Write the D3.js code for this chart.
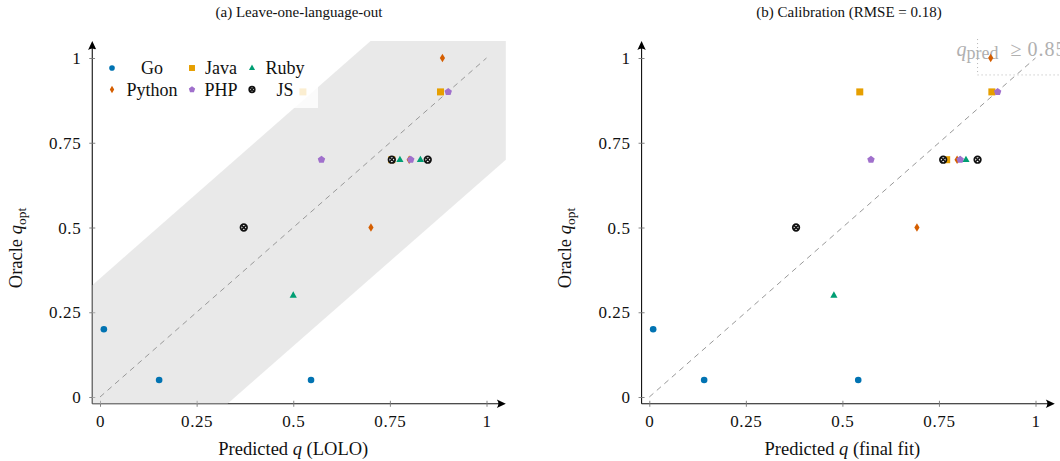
<!DOCTYPE html>
<html>
<head>
<meta charset="utf-8">
<script src="https://cdn.jsdelivr.net/npm/d3@7"></script>
<style>
  html, body { margin: 0; padding: 0; background: #fff; }
  svg { display: block; }
  svg text { font-family: "Liberation Serif", "Times New Roman", serif; }
</style>
</head>
<body>
<svg id="chart" width="1060" height="461"></svg>
<script>
// Languages, plotted in this order (later series sit on top)
const languages = ["Go", "Java", "Ruby", "Python", "PHP", "JS"];
const languageColors = ["#0173b2", "#e69f00", "#009e73", "#d55e00", "#a070cc", "#111111"];
const languageMarks = ["circle", "square", "triangle", "diamond", "pentagon", "otimes"];

// Oracle q_opt per task, three tasks per language
const oracleGo = [0.2, 0.05, 0.05];
const oracleJava = [0.9, 0.9, 0.7];
const oracleRuby = [0.3, 0.7, 0.7];
const oraclePython = [1.0, 0.5, 0.7];
const oraclePHP = [0.9, 0.7, 0.7];
const oracleJS = [0.5, 0.7, 0.7];

// Predicted q, leave-one-language-out
const loloGo = [0.01, 0.153, 0.546];
const loloJava = [0.525, 0.881, 0.755];
const loloRuby = [0.50, 0.776, 0.829];
const loloPython = [0.886, 0.701, 0.80];
const loloPHP = [0.901, 0.804, 0.573];
const loloJS = [0.372, 0.755, 0.848];

// Predicted q, final fit on all languages
const finalGo = [0.01, 0.142, 0.541];
const finalJava = [0.545, 0.887, 0.770];
const finalRuby = [0.478, 0.805, 0.820];
const finalPython = [0.884, 0.693, 0.797];
const finalPHP = [0.902, 0.805, 0.574];
const finalJS = [0.380, 0.761, 0.850];

const tickValues = [0, 0.25, 0.5, 0.75, 1];
const tickLabels = ["0", "0.25", "0.5", "0.75", "1"];

const bandHalfWidth = 0.35;      // LOLO tolerance band around y = x
const highPredThreshold = 0.85;  // final-fit region q_pred >= 0.85
const highPredOracle = 0.95;

const oracleByLang = [oracleGo, oracleJava, oracleRuby, oraclePython, oraclePHP, oracleJS];
const loloByLang = [loloGo, loloJava, loloRuby, loloPython, loloPHP, loloJS];
const finalByLang = [finalGo, finalJava, finalRuby, finalPython, finalPHP, finalJS];

const SERIF = "'Liberation Serif', 'Times New Roman', serif";
const svg = d3.select("#chart");
const domainMin = -0.02, domainMax = 1.05;

// Marker drawing
function drawMark(g, kind, color, x, y, s) {
  s = s || 1;
  if (kind === "circle") {
    g.append("circle").attr("cx", x).attr("cy", y).attr("r", 3.3 * s).attr("fill", color);
  } else if (kind === "square") {
    const h = 3.5 * s;
    g.append("rect").attr("x", x - h).attr("y", y - h).attr("width", 2 * h).attr("height", 2 * h).attr("fill", color);
  } else if (kind === "triangle") {
    const r = 4 * s;
    g.append("path").attr("d", `M${x},${y - r} L${x + r * 0.9},${y + r * 0.6} L${x - r * 0.9},${y + r * 0.6} Z`).attr("fill", color);
  } else if (kind === "diamond") {
    const w = 2.6 * s, h = 4.3 * s;
    g.append("path").attr("d", `M${x},${y - h} L${x + w},${y} L${x},${y + h} L${x - w},${y} Z`).attr("fill", color);
  } else if (kind === "pentagon") {
    const r = 3.9 * s;
    const pts = d3.range(5).map(i => {
      const a = -Math.PI / 2 + i * 2 * Math.PI / 5;
      return [x + r * Math.cos(a), y + r * Math.sin(a)];
    });
    g.append("path").attr("d", "M" + pts.map(p => p.join(",")).join("L") + "Z").attr("fill", color);
  } else if (kind === "otimes") {
    const r = 3.3 * s;
    g.append("circle").attr("cx", x).attr("cy", y).attr("r", r).attr("fill", "#fff").attr("stroke", color).attr("stroke-width", 1.7);
    const d = r * 0.72;
    g.append("path").attr("d", `M${x - d},${y - d}L${x + d},${y + d}M${x - d},${y + d}L${x + d},${y - d}`)
      .attr("stroke", color).attr("stroke-width", 1.5);
  }
}

function drawPanel(opts) {
  const x = d3.scaleLinear().domain([0, 1]).range([opts.x0, opts.x1]);
  const y = d3.scaleLinear().domain([0, 1]).range([397, 58]);
  const g = svg.append("g");

  const axisX = x(domainMin), axisY = y(domainMin);
  const xEnd = x(domainMax), yEnd = y(domainMax);

  // Axis lines with arrow heads
  g.append("line").attr("x1", axisX).attr("x2", xEnd - 3).attr("y1", axisY).attr("y2", axisY)
    .attr("stroke", "#111").attr("stroke-width", 1.1);
  g.append("line").attr("x1", axisX).attr("x2", axisX).attr("y1", axisY).attr("y2", yEnd + 3)
    .attr("stroke", "#111").attr("stroke-width", 1.1);
  g.append("path").attr("d", `M${xEnd},${axisY} L${xEnd - 9},${axisY - 4.2} Q${xEnd - 6},${axisY} ${xEnd - 9},${axisY + 4.2} Z`).attr("fill", "#000");
  g.append("path").attr("d", `M${axisX},${yEnd} L${axisX - 4.2},${yEnd + 9} Q${axisX},${yEnd + 6} ${axisX + 4.2},${yEnd + 9} Z`).attr("fill", "#000");

  // Ticks and tick labels through d3 axes
  const xAxis = d3.axisBottom(x).tickValues(tickValues).tickFormat((d, i) => tickLabels[i]).tickSizeOuter(0);
  const gx = g.append("g").attr("transform", `translate(0,${axisY})`).call(xAxis)
    .attr("font-family", SERIF).attr("font-size", 17);
  gx.select(".domain").remove();
  gx.selectAll(".tick line").attr("y1", -3).attr("y2", 3).attr("stroke", "#777").attr("stroke-width", 0.9);
  gx.selectAll(".tick text").attr("y", 23).attr("dy", 0).attr("fill", "#111")
    .style("letter-spacing", "0.6px");

  const yAxis = d3.axisLeft(y).tickValues(tickValues).tickFormat((d, i) => tickLabels[i]).tickSizeOuter(0);
  const gy = g.append("g").attr("transform", `translate(${axisX},0)`).call(yAxis)
    .attr("font-family", SERIF).attr("font-size", 17);
  gy.select(".domain").remove();
  gy.selectAll(".tick line").attr("x1", -3).attr("x2", 3).attr("stroke", "#777").attr("stroke-width", 0.9);
  gy.selectAll(".tick text").attr("x", -11).attr("dy", "0.33em").attr("fill", "#111")
    .style("letter-spacing", "0.6px");

  if (opts.band) {
    const lo = domainMin, hi = domainMax, w = bandHalfWidth;
    const poly = [[lo, lo], [lo + w, lo], [hi, hi - w], [hi, hi], [hi - w, hi], [lo, lo + w]];
    g.append("path")
      .attr("d", d3.line().x(d => x(d[0])).y(d => y(d[1]))(poly) + "Z")
      .attr("fill", "#d2d2d2").attr("fill-opacity", 0.48);
  }

  // Identity line
  g.append("line").attr("x1", x(0)).attr("y1", y(0)).attr("x2", x(1)).attr("y2", y(1))
    .attr("stroke", "#999").attr("stroke-width", 1).attr("stroke-dasharray", "5.5,4.5");

  if (opts.threshold) {
    g.append("line").attr("x1", x(highPredThreshold)).attr("x2", x(highPredThreshold))
      .attr("y1", yEnd - 2).attr("y2", y(highPredOracle))
      .attr("stroke", "#b5b5b5").attr("stroke-width", 1).attr("stroke-dasharray", "1,3");
    g.append("line").attr("x1", x(highPredThreshold)).attr("x2", x(1.08))
      .attr("y1", y(highPredOracle)).attr("y2", y(highPredOracle))
      .attr("stroke", "#b5b5b5").attr("stroke-width", 1).attr("stroke-dasharray", "1,3");
    const t = g.append("text").attr("x", x(highPredThreshold) - 21).attr("y", 56)
      .attr("fill", "#b0b0b0").style("font-size", "20px");
    t.append("tspan").style("font-style", "italic").text("q");
    t.append("tspan").attr("dy", 3).style("font-size", "18px").text("pred");
    t.append("tspan").attr("dy", -3).attr("dx", 12).text("\u2265");
    t.append("tspan").attr("dx", 6).style("letter-spacing", "1px").text("0.85");
  }

  // Points
  const pts = g.append("g");
  languages.forEach((lang, li) => {
    const preds = opts.preds[li];
    oracleByLang[li].forEach((o, k) => {
      drawMark(pts, languageMarks[li], languageColors[li], x(preds[k]), y(o));
    });
  });

  // Titles and labels
  g.append("text").attr("x", opts.titleX).attr("y", 17).attr("text-anchor", "middle")
    .style("font-size", "15px").attr("fill", "#111").text(opts.title);

  const xl = g.append("text").attr("x", x(0.5)).attr("y", 455).attr("text-anchor", "middle")
    .style("font-size", "18.5px").attr("fill", "#111");
  xl.append("tspan").text("Predicted ");
  xl.append("tspan").style("font-style", "italic").text("q");
  xl.append("tspan").text(" " + opts.xLabelSuffix);

  const yl = g.append("text").attr("transform", `translate(${opts.yLabelX},248) rotate(-90)`)
    .attr("text-anchor", "middle").style("font-size", "18.5px").attr("fill", "#111");
  yl.append("tspan").text("Oracle ");
  yl.append("tspan").style("font-style", "italic").text("q");
  yl.append("tspan").attr("dy", 4).style("font-size", "13.5px").text("opt");

  return { x, y, g };
}

drawPanel({
  x0: 100, x1: 486.5, preds: loloByLang, band: true,
  title: "(a) Leave-one-language-out", titleX: 299, xLabelSuffix: "(LOLO)", yLabelX: 22
});

drawPanel({
  x0: 649.3, x1: 1035.5, preds: finalByLang, threshold: true,
  title: "(b) Calibration (RMSE = 0.18)", titleX: 849, xLabelSuffix: "(final fit)", yLabelX: 571
});

// Legend, three columns by two rows, on a translucent white box
const legend = svg.append("g");
legend.append("rect").attr("x", 95).attr("y", 49).attr("width", 223).attr("height", 59)
  .attr("fill", "#fff").attr("fill-opacity", 0.82);
const colMarkX = [112, 192, 252];
const colTextX = [152, 221, 285];
const rowY = [68, 89.5];
languages.forEach((lang, i) => {
  const c = i % 3, r = Math.floor(i / 3);
  drawMark(legend, languageMarks[i], languageColors[i], colMarkX[c], rowY[r], 0.85);
  legend.append("text").attr("x", colTextX[c]).attr("y", rowY[r] + 6).attr("text-anchor", "middle")
    .style("font-size", "18px").attr("fill", "#111").text(lang);
});
</script>
</body>
</html>
